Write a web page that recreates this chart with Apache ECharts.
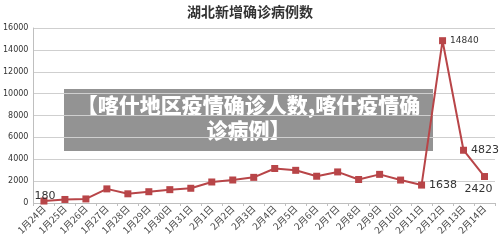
<!DOCTYPE html>
<html>
<head>
<meta charset="utf-8">
<script src="https://cdn.jsdelivr.net/npm/echarts@6/dist/echarts.min.js"></script>
<style>
  html, body { margin: 0; padding: 0; background: #fff; }
  #chart { width: 500px; height: 242px; }
</style>
</head>
<body>
<div id="chart"></div>
<script>
// Daily new confirmed cases in Hubei, 24 Jan – 14 Feb
const dates = ['1月24日','1月25日','1月26日','1月27日','1月28日','1月29日','1月30日','1月31日',
  '2月1日','2月2日','2月3日','2月4日','2月5日','2月6日','2月7日','2月8日','2月9日','2月10日',
  '2月11日','2月12日','2月13日','2月14日'];
const newCases = [180, 323, 371, 1291, 840, 1032, 1220, 1347, 1921, 2103, 2345, 3156, 2987,
  2447, 2841, 2147, 2618, 2097, 1638, 14840, 4823, 2420];
const yTicks = [0, 2000, 4000, 6000, 8000, 10000, 12000, 14000, 16000];
const titleText = '湖北新增确诊病例数';
const bannerLines = ['【喀什地区疫情确诊人数,喀什疫情确', '诊病例】'];

// which points carry a value label, and where it sits
const labelPlacement = { 0: 'top', 18: 'right', 19: 'right', 20: 'right', 21: 'bottom' };

const seriesData = newCases.map((v, i) => {
  const pos = labelPlacement[i];
  if (!pos) return v;
  const lbl = { show: true, position: pos, color: '#333', fontSize: i === 19 ? 9 : 11,
    fontFamily: 'DejaVu Sans', distance: 4 };
  if (i === 21) lbl.offset = [-6, 0];
  if (i === 0) { lbl.distance = 0; lbl.offset = [1, 4]; }
  return { value: v, label: lbl };
});

const chart = echarts.init(document.getElementById('chart'), null, { renderer: 'canvas' });
chart.setOption({
  animation: false,
  backgroundColor: '#fff',
  title: {
    text: titleText, left: 'center', top: 0,
    textStyle: { fontFamily: 'Noto Sans CJK SC', fontWeight: 'bold', fontSize: 14, color: '#333' }
  },
  grid: { left: 33, right: 5, top: 28, bottom: 39, containLabel: false },
  xAxis: {
    type: 'category', data: dates, boundaryGap: true,
    axisLine: { lineStyle: { color: '#bfbfbf' } },
    axisTick: { show: true, length: 3, lineStyle: { color: '#bfbfbf' } },
    axisLabel: { rotate: 45, fontSize: 9.5, color: '#444', margin: 4, interval: 0,
      fontFamily: 'Noto Sans CJK SC' }
  },
  yAxis: {
    type: 'value', min: yTicks[0], max: yTicks[yTicks.length - 1], interval: yTicks[1] - yTicks[0],
    axisLine: { show: true, lineStyle: { color: '#bfbfbf' } },
    axisTick: { show: false },
    splitLine: { lineStyle: { color: '#cfcfcf' } },
    axisLabel: { fontSize: 8, color: '#333', margin: 5, fontFamily: 'DejaVu Sans',
      formatter: v => String(v) }
  },
  series: [{
    type: 'line', data: seriesData,
    symbol: 'rect', symbolSize: 7,
    lineStyle: { color: '#b84548', width: 2 },
    itemStyle: { color: '#b84548' },
    z: 2
  }],
  graphic: [{
    type: 'group', left: 64, top: 89,
    children: [
      { type: 'rect', shape: { x: 0, y: 0, width: 369, height: 62 },
        style: { fill: 'rgba(40,40,40,0.5)' } },
      { type: 'text', x: 184.5, y: 29,
        style: { text: bannerLines.join('\n'), fill: '#fff', font: '900 21px "Noto Sans CJK SC"',
          align: 'center', verticalAlign: 'middle', lineHeight: 25 } }
    ],
    z: 100
  }]
});
</script>
</body>
</html>
